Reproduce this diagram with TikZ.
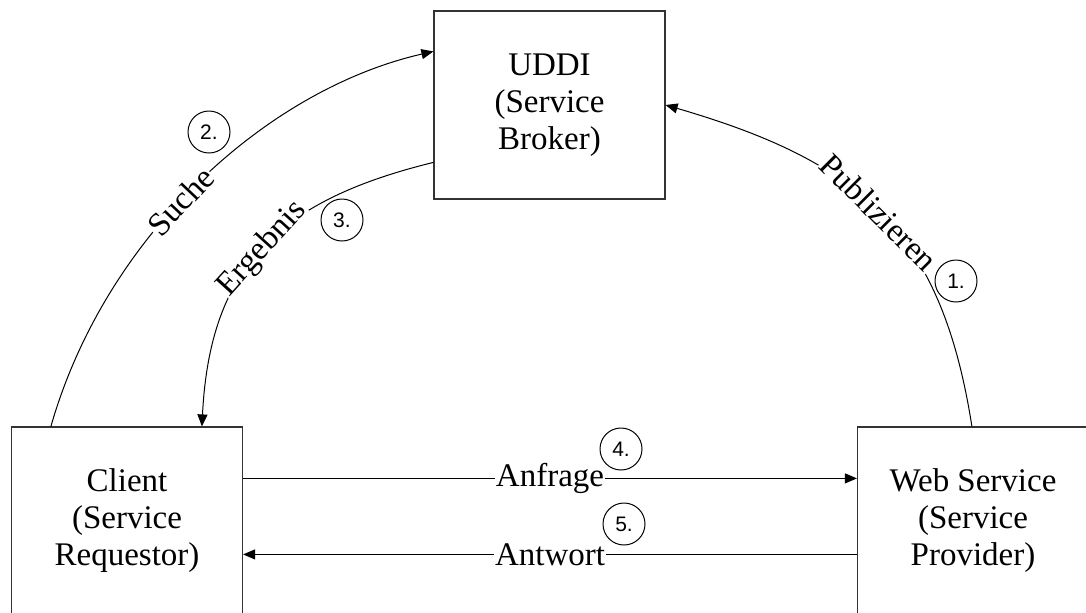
\documentclass[tikz,border=0pt]{standalone}
\usepackage{fontspec}
\setmainfont{Liberation Serif}
\newfontfamily\numfont{Liberation Sans}
\usetikzlibrary{arrows.meta}
\begin{document}
\begin{tikzpicture}[x=0.5pt,y=-0.5pt,
  role/.style={draw=black!80, line width=0.6pt, minimum width=115.5pt, minimum height=94pt,
    align=center, inner sep=0pt, font=\fontsize{16.5}{18.5}\selectfont},
  flow/.style={line width=0.5pt, -{Triangle[length=6pt,width=5pt]}},
  tag/.style={fill=white, inner sep=0.5pt, font=\fontsize{16.5}{18}\selectfont},
  stepno/.style={circle, draw, line width=0.5pt, minimum size=21pt, inner sep=0pt,
    font=\numfont\fontsize{10.5}{12}\selectfont}]
\useasboundingbox (0,0) rectangle (1086,612);
\clip (0,0) rectangle (1086,612);

% the three roles
\node[role] (uddi)   at (549.5,105) {UDDI\\(Service\\Broker)};
\node[role] (client) at (127,521)   {Client\\(Service\\Requestor)};
\node[role] (ws)     at (973,521)   {Web Service\\(Service\\Provider)};

% 1. publish
\draw[flow] ([xshift=57.5pt]ws.north west) .. controls +(-31,-198) and +(192,56) .. (uddi.east)
  node[tag, sloped, pos=0.5] {Publizieren};
% 2. search
\draw[flow] ([xshift=20pt]client.north west) .. controls +(55,-192) and +(-166,38) .. ([yshift=-20.5pt]uddi.north west)
  node[tag, sloped, pos=0.45] {Suche};
% 3. result
\draw[flow] ([yshift=-76pt]uddi.north west) .. controls +(-155,38) and +(8,-160) .. ([xshift=95.5pt]client.north west)
  node[tag, sloped, pos=0.5] {Ergebnis};
% 4. request and 5. response
\draw[flow] ([yshift=-26pt]client.north east) -- ([yshift=-26pt]ws.north west)
  node[tag, midway] {Anfrage};
\draw[flow] ([yshift=-64pt]ws.north west) -- ([yshift=-64pt]client.north east)
  node[tag, midway] {Antwort};

% step numbers
\node[stepno] (s1) at (956,281) {1.};
\node[stepno] (s2) at (209,132) {2.};
\node[stepno] (s3) at (342,220) {3.};
\node[stepno] (s4) at (621,449) {4.};
\node[stepno] (s5) at (624,524) {5.};
\end{tikzpicture}
\end{document}
